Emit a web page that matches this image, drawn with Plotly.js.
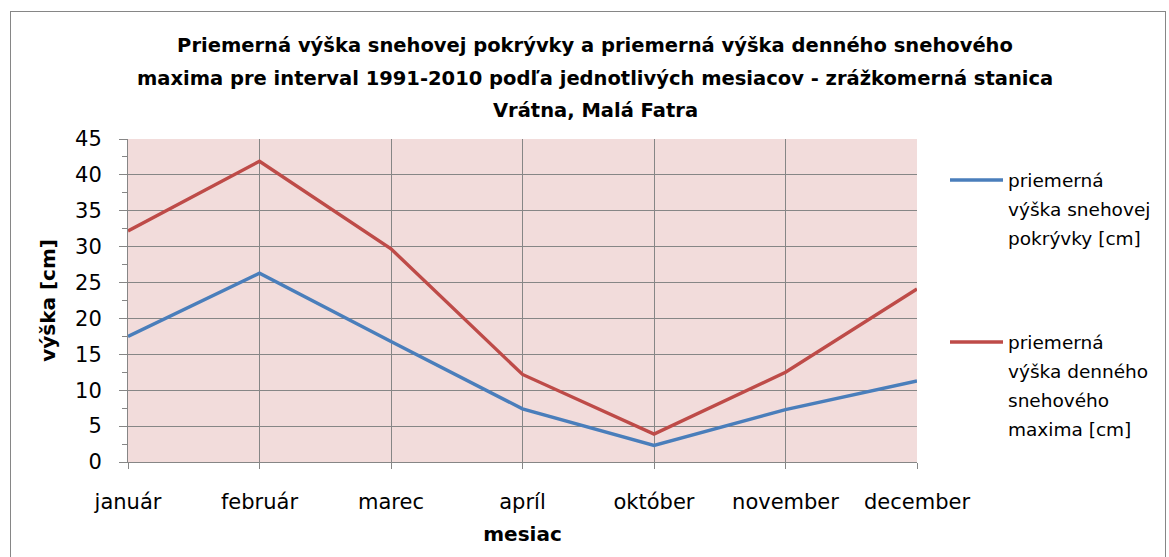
<!DOCTYPE html>
<html><head><meta charset="utf-8">
<script src="https://cdn.plot.ly/plotly-3.0.1.min.js"></script>
<style>
html,body{margin:0;padding:0;background:#fff;}
#wrap{position:relative;width:1169px;height:557px;overflow:hidden;}
#chart{width:1169px;height:557px;}
#frame{position:absolute;left:10px;top:11px;width:1154px;height:600px;border:1px solid #868686;pointer-events:none;}
</style></head>
<body><div id="wrap"><div id="chart"></div><div id="frame"></div></div>
<script>
const months = ['január','február','marec','apríl','október','november','december'];
const snowCover = [17.5, 26.3, 16.8, 7.4, 2.3, 7.3, 11.3];
const snowMax = [32.2, 41.9, 29.7, 12.2, 3.9, 12.5, 24.1];
const titleLines = ['Priemerná výška snehovej pokrývky a priemerná výška denného snehového',
  'maxima pre interval 1991-2010 podľa jednotlivých mesiacov - zrážkomerná stanica',
  'Vrátna, Malá Fatra'];
const coverLegend = ['priemerná','výška snehovej','pokrývky [cm]'];
const maxLegend = ['priemerná','výška denného','snehového','maxima [cm]'];
const blue = '#4A7EBB', red = '#BE4B48';
const FONT = '"DejaVu Sans", sans-serif';

const L = 128, R = 917, T = 139, B = 462;
const W = 1169, H = 557;
const px2x = p => (p - L) / (R - L);
const px2y = p => (B - p) / (B - T);

const traces = [
  {x: months, y: snowCover, type: 'scatter', mode: 'lines', name: coverLegend.join(' '),
   line: {color: blue, width: 3.4}, showlegend: false},
  {x: months, y: snowMax, type: 'scatter', mode: 'lines', name: maxLegend.join(' '),
   line: {color: red, width: 3.4}, showlegend: false}
];

const TITLE_SIZE = 19.5, TICK_SIZE = 21, AXT_SIZE = 20, LEG_SIZE = 18.5;
const annotations = [];
const shapes = [];
titleLines.slice(1).forEach((t, i) => {
  annotations.push({text: '<b>' + t + '</b>', xref: 'paper', yref: 'paper',
    x: px2x(595), y: px2y(78 + 32 * i), xanchor: 'center', yanchor: 'middle', showarrow: false,
    font: {family: FONT, size: TITLE_SIZE, color: '#000'}});
});
function addLegend(lines, color, y0) {
  shapes.push({type: 'line', xref: 'paper', yref: 'paper', x0: px2x(950), x1: px2x(1003),
    y0: px2y(y0), y1: px2y(y0), line: {color: color, width: 3.4}});
  lines.forEach((t, i) => annotations.push({text: t, xref: 'paper', yref: 'paper',
    x: px2x(1006), y: px2y(y0 + 29 * i), xanchor: 'left', yanchor: 'middle', showarrow: false,
    font: {family: FONT, size: LEG_SIZE, color: '#000'}}));
}
addLegend(coverLegend, blue, 180);
addLegend(maxLegend, red, 342);

const layout = {
  width: W, height: H,
  margin: {l: L, r: W - R, t: T, b: H - B, pad: 0},
  paper_bgcolor: 'rgba(0,0,0,0)', plot_bgcolor: '#F2DCDB',
  showlegend: false,
  title: {text: '<b>' + titleLines[0] + '</b>', x: 595 / W, xanchor: 'center',
    y: 1 - 45 / H, yanchor: 'middle', yref: 'container', font: {family: FONT, size: TITLE_SIZE, color: '#000'}},
  xaxis: {type: 'category', range: [0, 6], showgrid: true, gridcolor: '#868686', gridwidth: 1,
    showline: true, linecolor: '#868686', linewidth: 1, ticks: 'outside', ticklen: 6, tickcolor: '#868686',
    tickfont: {family: FONT, size: TICK_SIZE, color: '#000'}, ticklabelstandoff: 15, zeroline: false,
    title: {text: '<b>mesiac</b>', font: {family: FONT, size: AXT_SIZE, color: '#000'}, standoff: 13}},
  yaxis: {range: [0, 45], dtick: 5, tick0: 0, showgrid: true, gridcolor: '#868686', gridwidth: 1,
    showline: true, linecolor: '#868686', linewidth: 1, ticks: 'outside', ticklen: 8, tickcolor: '#868686',
    tickfont: {family: FONT, size: TICK_SIZE, color: '#000'}, ticklabelstandoff: 13, zeroline: false,
    minor: {dtick: 2.5, ticks: 'outside', ticklen: 5, tickcolor: '#868686', showgrid: false},
    title: {text: '<b>výška [cm]</b>', font: {family: FONT, size: AXT_SIZE, color: '#000'}, standoff: 14}},
  annotations: annotations, shapes: shapes
};
Plotly.newPlot('chart', traces, layout, {displayModeBar: false, staticPlot: true});
</script></body></html>
